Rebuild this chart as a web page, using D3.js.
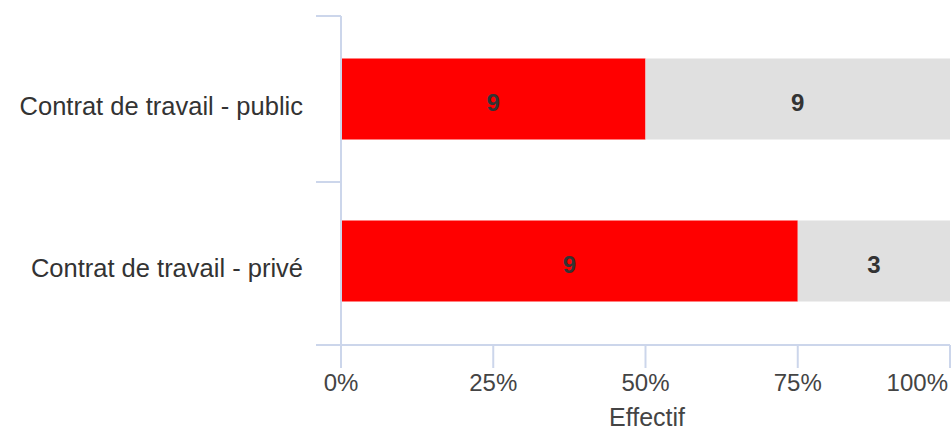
<!DOCTYPE html>
<html>
<head>
<meta charset="utf-8">
<script src="https://cdn.jsdelivr.net/npm/d3@7"></script>
<style>
  body { margin: 0; background: #fff; }
  text { font-family: "Liberation Sans", Arial, sans-serif; }
</style>
</head>
<body>
<div id="chart"></div>
<script>
var categories = ["Contrat de travail - public", "Contrat de travail - privé"];
var redValues = [9, 9];
var greyValues = [9, 3];
var xTicks = [0, 0.25, 0.5, 0.75, 1];
var seriesColors = ["#ff0000", "#e0e0e0"];

var svgWidth = 951, svgHeight = 434;
var axisColor = "#ccd6eb";

var svg = d3.select("#chart").append("svg")
    .attr("width", svgWidth)
    .attr("height", svgHeight);

var x = d3.scaleLinear().domain([0, 1]).range([341, 950]);
var y = d3.scaleBand().domain(categories).range([18, 342])
    .paddingInner(0.5).paddingOuter(0.25);
var yAxisTop = 16, yAxisBottom = 345;

// stack the two series as shares of each row
var rows = categories.map(function(c, i) {
    var total = redValues[i] + greyValues[i];
    return { cat: c, parts: [
        { v: redValues[i], x0: 0, x1: redValues[i] / total, color: seriesColors[0] },
        { v: greyValues[i], x0: redValues[i] / total, x1: 1, color: seriesColors[1] }
    ]};
});

var row = svg.selectAll("g.row")
    .data(rows)
    .enter().append("g")
    .attr("class", "row");

row.selectAll("rect")
    .data(function(d) { return d.parts.map(function(p) { p.cat = d.cat; return p; }); })
    .enter().append("rect")
    .attr("x", d => x(d.x0))
    .attr("width", d => x(d.x1) - x(d.x0))
    .attr("y", d => y(d.cat))
    .attr("height", y.bandwidth())
    .style("fill", d => d.color);

row.selectAll("text.val")
    .data(function(d) { return d.parts; })
    .enter().append("text")
    .attr("class", "val")
    .attr("x", d => (x(d.x0) + x(d.x1)) / 2)
    .attr("y", d => y(d.cat) + y.bandwidth() / 2 + 12)
    .style("text-anchor", "middle")
    .style("font-size", "24px")
    .style("font-weight", "bold")
    .style("fill", "#333")
    .text(d => d.v);

// y axis line and band boundary ticks
svg.append("line")
    .attr("x1", x(0)).attr("x2", x(0))
    .attr("y1", yAxisTop).attr("y2", yAxisBottom)
    .style("stroke", axisColor).style("stroke-width", 2);

var bounds = [yAxisTop, (y(categories[0]) + y.bandwidth() + y(categories[1])) / 2 + 2, yAxisBottom];
svg.selectAll("line.ytick")
    .data(bounds)
    .enter().append("line")
    .attr("x1", x(0) - 25).attr("x2", x(0))
    .attr("y1", d => d).attr("y2", d => d)
    .style("stroke", axisColor).style("stroke-width", 2);

svg.selectAll("text.ylab")
    .data(categories)
    .enter().append("text")
    .attr("x", 303)
    .attr("y", d => y(d) + y.bandwidth() / 2 + 16)
    .style("text-anchor", "end")
    .style("font-size", "25.5px")
    .style("fill", "#333")
    .text(d => d);

// x axis
svg.append("line")
    .attr("x1", x(0) - 25).attr("x2", x(1))
    .attr("y1", yAxisBottom).attr("y2", yAxisBottom)
    .style("stroke", axisColor).style("stroke-width", 2);

svg.selectAll("line.xtick")
    .data(xTicks)
    .enter().append("line")
    .attr("x1", d => x(d)).attr("x2", d => x(d))
    .attr("y1", yAxisBottom).attr("y2", yAxisBottom + 23)
    .style("stroke", axisColor).style("stroke-width", 2);

svg.selectAll("text.xlab")
    .data(xTicks)
    .enter().append("text")
    .attr("x", (d, i) => i === xTicks.length - 1 ? x(d) - 2 : x(d))
    .attr("y", 391)
    .style("text-anchor", (d, i) => i === xTicks.length - 1 ? "end" : "middle")
    .style("font-size", "24px")
    .style("fill", "#444")
    .text(d => d3.format(".0%")(d));

svg.append("text")
    .attr("x", 647)
    .attr("y", 426)
    .style("text-anchor", "middle")
    .style("font-size", "25px")
    .style("fill", "#444")
    .text("Effectif");
</script>
</body>
</html>
